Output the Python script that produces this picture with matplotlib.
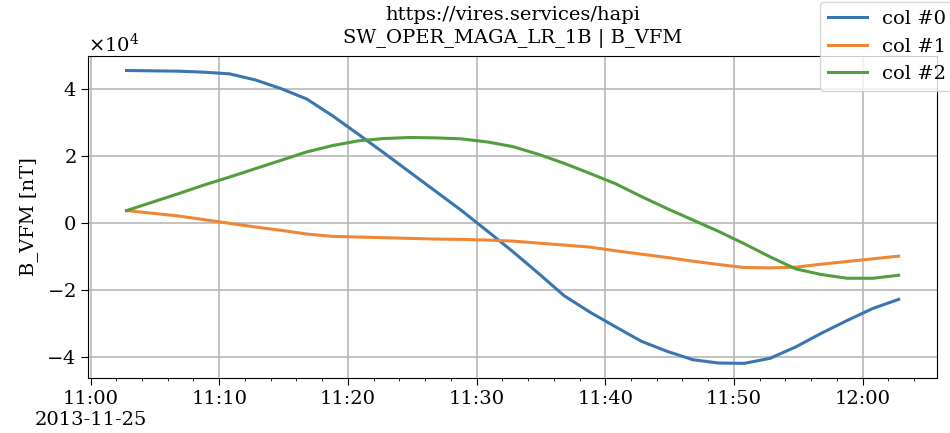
import numpy as np
import matplotlib
matplotlib.use("Agg")
import matplotlib.pyplot as plt
import matplotlib.dates as mdates
from matplotlib.ticker import ScalarFormatter, FuncFormatter
import datetime as dt

plt.rcParams['font.family'] = ['DejaVu Serif']

# minutes after 2013-11-25 11:00
minutes = [2.8, 4.8, 6.8, 8.8, 10.8, 12.8, 14.8, 16.8, 18.8, 20.8, 22.8, 24.8, 26.8,
           28.8, 30.8, 32.8, 34.8, 36.8, 38.8, 40.8, 42.8, 44.8, 46.8, 48.8, 50.8,
           52.8, 54.8, 56.8, 58.8, 60.8, 62.8]
col0 = [4.55, 4.54, 4.53, 4.50, 4.45, 4.27, 4.01, 3.70, 3.20, 2.65, 2.09, 1.52, 0.95,
        0.38, -0.23, -0.85, -1.50, -2.17, -2.66, -3.10, -3.53, -3.83, -4.08, -4.18,
        -4.19, -4.04, -3.70, -3.29, -2.91, -2.55, -2.28]
col1 = [0.37, 0.29, 0.21, 0.10, -0.01, -0.12, -0.22, -0.33, -0.40, -0.42, -0.44, -0.46,
        -0.48, -0.49, -0.51, -0.54, -0.60, -0.66, -0.72, -0.83, -0.93, -1.03, -1.14,
        -1.24, -1.33, -1.34, -1.32, -1.23, -1.15, -1.07, -0.99]
col2 = [0.37, 0.62, 0.87, 1.13, 1.37, 1.62, 1.87, 2.12, 2.31, 2.45, 2.52, 2.55, 2.54,
        2.51, 2.42, 2.28, 2.05, 1.78, 1.48, 1.17, 0.79, 0.43, 0.09, -0.25, -0.62,
        -1.01, -1.37, -1.54, -1.65, -1.65, -1.56]
labels = ["col #0", "col #1", "col #2"]
colors = ['#3b75af', '#ef8636', '#519e3e']
scale = 1e4

t0 = dt.datetime(2013, 11, 25, 11, 0)
times = [t0 + dt.timedelta(minutes=m) for m in minutes]

fig = plt.figure(figsize=(9.5, 4.33), dpi=100)
ax = fig.add_axes([0.0926, 0.127, 0.894, 0.744])

for series, lab, c in zip([col0, col1, col2], labels, colors):
    ax.plot(times, np.array(series) * scale, lw=2.2, label=lab, color=c)

ax.xaxis.set_major_locator(mdates.MinuteLocator(byminute=range(0, 60, 10)))
ax.xaxis.set_minor_locator(mdates.MinuteLocator(byminute=range(0, 60, 2)))

def fmt(x, pos):
    d = mdates.num2date(x)
    s = d.strftime("%H:%M")
    if pos == 0:
        s += "\n" + d.strftime("%Y-%m-%d")
    return s

ax.xaxis.set_major_formatter(FuncFormatter(fmt))
sf = ScalarFormatter(useMathText=True)
sf.set_powerlimits((-3, 3))
ax.yaxis.set_major_formatter(sf)
ax.set_yticks(np.array([-4, -2, 0, 2, 4]) * scale)

ax.tick_params(labelsize=14)
ax.tick_params(which='major', length=5)
ax.yaxis.get_offset_text().set_fontsize(14)
ax.grid(True, color='#b8b8b8', lw=1.2)
ax.set_ylabel("B_VFM [nT]", fontsize=14, labelpad=6)
ax.set_title("https://vires.services/hapi\nSW_OPER_MAGA_LR_1B | B_VFM", fontsize=14,
             linespacing=1.35, pad=9)

fig.legend(loc='upper left', bbox_to_anchor=(820 / 950, 1 - 2 / 433), fontsize=14,
           borderaxespad=0)

fig.savefig("out.png", dpi=100)
